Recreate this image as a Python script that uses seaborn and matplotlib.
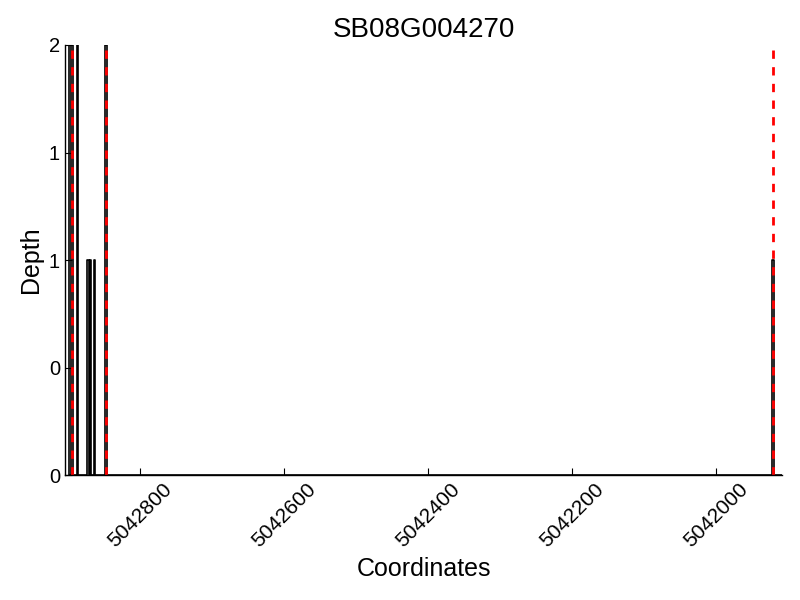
import numpy as np
import pandas as pd
import matplotlib
matplotlib.use("Agg")
import matplotlib.pyplot as plt
import seaborn as sns
from matplotlib.ticker import FormatStrFormatter

gene_id = "SB08G004270"

# covered stretches (genomic coordinates, minus strand so plotted reversed)
seg_start = [5042906, 5042896, 5042887, 5042873, 5042869, 5042864, 5042848, 5041923]
seg_end = [5042898, 5042893, 5042886, 5042871, 5042867, 5042862, 5042846, 5041920]
seg_depth = [2, 2, 2, 1, 1, 1, 2, 1]

# exon boundaries
boundaries = [5042894.5, 5042847, 5041921.5]

x_ticks = [5042800, 5042600, 5042400, 5042200, 5042000]
x_left, x_right = 5042904, 5041908

# build a step outline of the depth
xs, ys = [seg_start[0]], [0]
for s, e, d in zip(seg_start, seg_end, seg_depth):
    xs += [s, s, e, e]
    ys += [0, d, d, 0]
xs.append(x_right)
ys.append(0)
df = pd.DataFrame({'pos': xs, 'depth': ys})

sns.set_style('ticks')
plt.rcParams['font.family'] = ['Liberation Sans', 'DejaVu Sans']
plt.rcParams['xtick.direction'] = 'in'
plt.rcParams['ytick.direction'] = 'in'
plt.rcParams['text.color'] = 'black'
plt.rcParams['axes.labelcolor'] = 'black'
plt.rcParams['xtick.color'] = 'black'
plt.rcParams['ytick.color'] = 'black'

fig = plt.figure(figsize=(8, 6), dpi=100)
ax = fig.add_axes([0.081, 0.208, 0.897, 0.717])

sns.lineplot(data=df, x='pos', y='depth', estimator=None, sort=False,
             color='black', lw=1.2, ax=ax)
ax.vlines(boundaries, 0, max(seg_depth), colors='red', linestyles=(0, (3, 3)), lw=2)

ax.set_xlim(x_left, x_right)
ax.set_ylim(0, 2)
ax.set_xticks(x_ticks)
ax.set_xticklabels([str(t) for t in x_ticks], rotation=45, fontsize=15)
ax.set_yticks([0, 0.5, 1, 1.5, 2])
ax.yaxis.set_major_formatter(FormatStrFormatter('%d'))
ax.tick_params(axis='y', labelsize=14.5)
ax.tick_params(length=5, width=0.8, color='black')
for s in ['left', 'bottom']:
    ax.spines[s].set_color('black')
    ax.spines[s].set_linewidth(1)
sns.despine(ax=ax)

ax.set_xlabel('Coordinates', fontsize=18, color='black')
ax.set_ylabel('Depth', fontsize=18, color='black')
ax.set_title(gene_id, fontsize=20, color='black')

fig.savefig('out.png', dpi=100)
